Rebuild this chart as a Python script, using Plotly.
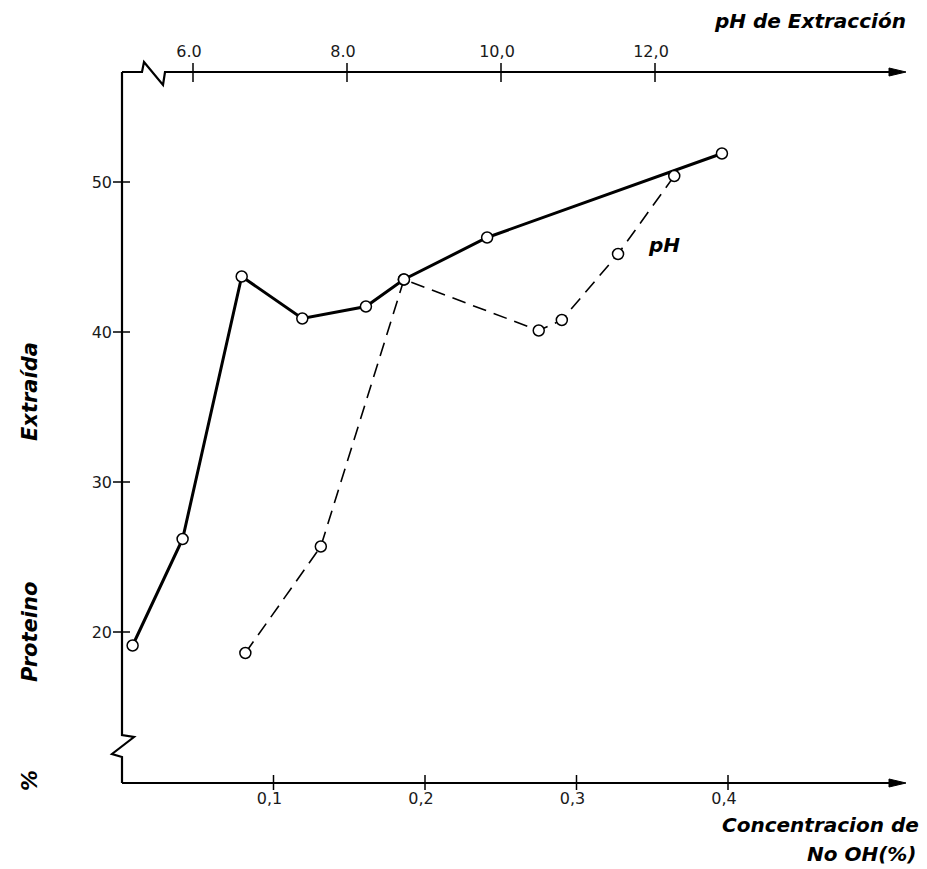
import plotly.graph_objects as go

# ---------------- data ----------------
naoh_conc = [0.007, 0.040, 0.079, 0.119, 0.161, 0.186, 0.241, 0.396]
naoh_prot = [19.1, 26.2, 43.7, 40.9, 41.7, 43.5, 46.3, 51.9]

ph_values = [6.68, 7.66, 8.74, 10.49, 10.79, 11.52, 12.25]
ph_prot = [18.6, 25.7, 43.5, 40.1, 40.8, 45.2, 50.4]

naoh_ticks = [0.1, 0.2, 0.3, 0.4]
naoh_ticktext = ["0,1", "0,2", "0,3", "0,4"]
ph_ticks = [6.0, 8.0, 10.0, 12.0]
ph_ticktext = ["6.0", "8.0", "10,0", "12,0"]
y_ticks = [20, 30, 40, 50]
y_ticktext = ["20", "30", "40", "50"]

# ---------------- layout geometry (page pixels) ----------------
OFF = 8                      # default body margin of the html page
W, H = 927 - OFF, 869 - OFF  # figure size
L, R, T, B = 122, 905, 72, 783   # plot area in page pixels


def px(x):
    return (x - L) / (R - L)


def py(y):
    return (B - y) / (B - T)


TICK_FONT = dict(family="DejaVu Sans", size=16, color="#1a1a1a")
TITLE_FONT = dict(family="DejaVu Sans", size=20, color="black", weight="bold", style="italic")
YTITLE_FONT = dict(family="DejaVu Sans", size=21, color="black", weight="bold", style="italic")

fig = go.Figure()

fig.add_trace(go.Scatter(
    x=ph_values, y=ph_prot, xaxis="x2", yaxis="y", mode="lines+markers",
    line=dict(color="black", width=1.6, dash="14px,8px"),
    marker=dict(symbol="circle", size=11, color="white", line=dict(color="black", width=1.5)),
    showlegend=False, name="pH",
))
fig.add_trace(go.Scatter(
    x=naoh_conc, y=naoh_prot, xaxis="x", yaxis="y", mode="lines+markers",
    line=dict(color="black", width=3),
    marker=dict(symbol="circle", size=11, color="white", line=dict(color="black", width=1.5)),
    showlegend=False, name="NaOH",
))

shapes = []
line_style = dict(color="black", width=2.2)

# left axis with break
shapes.append(dict(type="path", xref="paper", yref="paper",
                   path=(f"M {px(122)},{py(72)} L {px(122)},{py(735)} L {px(134)},{py(737)} "
                         f"L {px(112)},{py(754)} L {px(122)},{py(757)} L {px(122)},{py(783)}"),
                   line=line_style))
# bottom axis
shapes.append(dict(type="path", xref="paper", yref="paper",
                   path=f"M {px(122)},{py(783)} L {px(893)},{py(783)}", line=line_style))
shapes.append(dict(type="path", xref="paper", yref="paper",
                   path=f"M {px(889)},{py(779)} L {px(906)},{py(783)} L {px(889)},{py(787)} Z",
                   fillcolor="black", line=dict(color="black", width=1)))
# top axis with break
shapes.append(dict(type="path", xref="paper", yref="paper",
                   path=(f"M {px(122)},{py(72)} L {px(142)},{py(72)} L {px(144)},{py(62)} "
                         f"L {px(163)},{py(85)} L {px(165)},{py(72)} L {px(893)},{py(72)}"),
                   line=line_style))
shapes.append(dict(type="path", xref="paper", yref="paper",
                   path=f"M {px(889)},{py(68)} L {px(906)},{py(72)} L {px(889)},{py(76)} Z",
                   fillcolor="black", line=dict(color="black", width=1)))

# tick marks crossing the axes
for v in naoh_ticks:
    shapes.append(dict(type="line", xref="x", yref="paper", x0=v, x1=v,
                       y0=py(775), y1=py(790), line=dict(color="black", width=1.5)))
for v in ph_ticks:
    shapes.append(dict(type="line", xref="x2", yref="paper", x0=v, x1=v,
                       y0=py(63), y1=py(82), line=dict(color="black", width=1.5)))
for v in y_ticks:
    shapes.append(dict(type="line", xref="paper", yref="y", x0=px(113), x1=px(130),
                       y0=v, y1=v, line=dict(color="black", width=1.5)))

annotations = [
    dict(text="pH de Extracción", xref="paper", yref="paper", x=px(908), y=py(21),
         xanchor="right", yanchor="middle", showarrow=False, font=TITLE_FONT),
    dict(text="Concentracion de", xref="paper", yref="paper", x=px(921), y=py(825),
         xanchor="right", yanchor="middle", showarrow=False, font=TITLE_FONT),
    dict(text="No OH(%)", xref="paper", yref="paper", x=px(919), y=py(854),
         xanchor="right", yanchor="middle", showarrow=False, font=TITLE_FONT),
    dict(text="pH", xref="paper", yref="paper", x=px(664), y=py(245),
         xanchor="center", yanchor="middle", showarrow=False, font=TITLE_FONT),
    dict(text="%", xref="paper", yref="paper", x=px(30), y=py(781), textangle=-90,
         xanchor="center", yanchor="middle", showarrow=False, font=YTITLE_FONT),
    dict(text="Proteino", xref="paper", yref="paper", x=px(30), y=py(632), textangle=-90,
         xanchor="center", yanchor="middle", showarrow=False, font=YTITLE_FONT),
    dict(text="Extraída", xref="paper", yref="paper", x=px(30), y=py(392), textangle=-90,
         xanchor="center", yanchor="middle", showarrow=False, font=YTITLE_FONT),
]

fig.update_layout(
    width=W, height=H,
    margin=dict(l=L - OFF, r=W - (R - OFF), t=T - OFF, b=H - (B - OFF), pad=0),
    paper_bgcolor="white", plot_bgcolor="white",
    showlegend=False,
    shapes=shapes,
    annotations=annotations,
    xaxis=dict(range=[0, (R - L) / 1515], showline=False, showgrid=False, zeroline=False,
               tickvals=naoh_ticks, ticktext=naoh_ticktext, ticks="",
               ticklabelstandoff=4, ticklabelshift=-4, tickfont=TICK_FONT, fixedrange=True),
    xaxis2=dict(range=[6 - (193 - L) / 77, 6 + (R - 193) / 77], overlaying="x", side="top",
                anchor="y", showline=False, showgrid=False, zeroline=False,
                tickvals=ph_ticks, ticktext=ph_ticktext, ticks="",
                ticklabelstandoff=11, ticklabelshift=-4, tickfont=TICK_FONT, fixedrange=True),
    yaxis=dict(range=[20 - (B - 632) / 15, 20 + (632 - T) / 15], showline=False, showgrid=False,
               zeroline=False, tickvals=y_ticks, ticktext=y_ticktext, ticks="",
               ticklabelstandoff=9, tickfont=TICK_FONT, fixedrange=True),
)

fig.write_html("out.html")
